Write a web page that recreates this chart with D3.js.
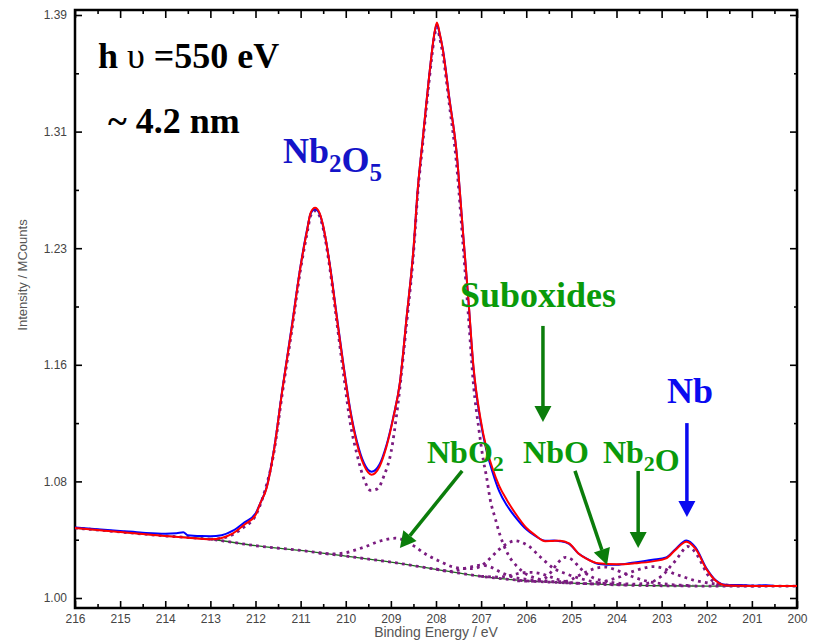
<!DOCTYPE html>
<html>
<head>
<meta charset="utf-8">
<script src="https://cdn.jsdelivr.net/npm/d3@7"></script>
<style>
body { margin: 0; background: #fff; }
svg { display: block; }
</style>
</head>
<body>
<svg id="chart" width="816" height="642"></svg>
<script>
// Nb 3d spectrum as [binding energy (eV), intensity (MCounts)]
const fitCurve = [
	[216.0,1.0468],[215.5,1.0455],[215.0,1.0442],[214.5,1.0428],[214.0,1.0415],[213.5,1.0403],[213.0,1.0393],
	[212.75,1.0402],[212.5,1.0432],[212.25,1.0490],[212.0,1.0555],[211.9,1.0630],[211.75,1.0740],[211.6,1.0970],
	[211.4,1.1400],[211.2,1.1800],[211.0,1.2220],[210.85,1.2470],[210.78,1.2575],[210.68,1.2610],[210.58,1.2575],
	[210.5,1.2490],[210.35,1.2220],
	[210.2,1.1880],[210.05,1.1550],[209.9,1.1250],[209.75,1.1030],[209.6,1.0890],[209.43,1.0825],[209.25,1.0880],
	[209.1,1.1010],[208.95,1.1200],[208.8,1.1440],[208.65,1.1880],[208.5,1.2330],[208.4,1.2750],[208.3,1.3050],
	[208.2,1.3350],[208.1,1.3630],[208.04,1.3770],[207.98,1.3850],[207.92,1.3780],[207.85,1.3670],[207.7,1.3330],
	[207.55,1.3000],[207.4,1.2440],
	[207.28,1.1990],[207.17,1.1550],[207.02,1.1210],[206.88,1.1000],[206.75,1.0870],[206.6,1.0750],[206.43,1.0656],
	[206.25,1.0570],[206.0,1.0470],[205.8,1.0420],[205.58,1.0380],[205.4,1.0382],[205.25,1.0383],[205.05,1.0365],
	[204.85,1.0300],[204.65,1.0260],[204.4,1.0232],[204.0,1.0225],[203.6,1.0232],[203.2,1.0245],[202.9,1.0265],
	[202.7,1.0320],[202.45,1.0377],[202.25,1.0330],[202.0,1.0190],[201.8,1.0115],[201.55,1.0083],[201.0,1.0080],
	[200.5,1.0080],[200.0,1.0080]
];

const rawCurve = [
	[216.0,1.0472],[215.5,1.0460],[215.0,1.0449],[214.5,1.0437],[214.0,1.0430],[213.75,1.0433],[213.6,1.0440],
	[213.5,1.0420],[213.2,1.0414],[213.0,1.0413],[212.75,1.0420],[212.5,1.0450],[212.25,1.0505],[212.0,1.0565],
	[211.9,1.0630],[211.75,1.0745],[211.6,1.0975],[211.4,1.1405],[211.2,1.1810],[211.0,1.2225],[210.85,1.2475],
	[210.78,1.2570],[210.68,1.2600],[210.58,1.2570],[210.5,1.2485],[210.35,1.2225],[210.2,1.1890],[210.05,1.1560],
	[209.9,1.1260],[209.75,1.1045],
	[209.6,1.0905],[209.43,1.0845],[209.25,1.0895],[209.1,1.1020],[208.95,1.1205],[208.8,1.1440],[208.65,1.1880],
	[208.5,1.2330],[208.4,1.2750],[208.3,1.3050],[208.2,1.3350],[208.1,1.3630],[208.04,1.3765],[207.98,1.3840],
	[207.92,1.3775],[207.85,1.3675],
	[207.7,1.3335],[207.55,1.3000],[207.4,1.2440],[207.28,1.1985],[207.17,1.1540],[207.02,1.1195],[206.88,1.0985],
	[206.75,1.0845],[206.6,1.0715],[206.43,1.0620],[206.25,1.0545],[206.0,1.0460],[205.8,1.0415],[205.58,1.0383],
	[205.4,1.0384],[205.25,1.0380],[205.05,1.0362],[204.85,1.0300],[204.65,1.0262],[204.4,1.0228],[204.0,1.0222],
	[203.6,1.0238],[203.2,1.0256],[202.9,1.0272],[202.7,1.0325],[202.45,1.0385],[202.25,1.0338],[202.0,1.0195],
	[201.8,1.0118],[201.55,1.0086],[201.3,1.0087],[201.0,1.0082],[200.7,1.0085],[200.5,1.0081],[200.0,1.0080]
];

const bgCurve = [
	[216,1.0468],[215,1.0442],[214,1.0415],[213,1.0393],[212,1.0350],[211,1.0318],[210,1.0280],[209,1.0240],
	[208,1.0192],[207,1.0145],[206,1.0115],[205,1.0100],[204,1.0088],[203,1.0082],[202,1.0080],[201,1.0080],[200,1.0080]
];

// fitted components (each sits on the background)
const compNb2O5 = [
	[213.0,1.0393],[212.75,1.0400],[212.5,1.0425],[212.25,1.0475],[212.0,1.0550],[211.8,1.0710],[211.6,1.0960],
	[211.4,1.1380],[211.2,1.1780],[211.0,1.2200],[210.85,1.2450],[210.78,1.2555],[210.68,1.2590],[210.58,1.2555],
	[210.5,1.2470],[210.35,1.2200],
	[210.2,1.1850],[210.05,1.1500],[209.9,1.1170],[209.75,1.0960],[209.6,1.0800],[209.45,1.0720],[209.3,1.0730],
	[209.15,1.0820],[209.0,1.0970],[208.85,1.1280],[208.65,1.1840],[208.5,1.2300],[208.4,1.2720],[208.3,1.3020],
	[208.2,1.3320],[208.1,1.3600],[208.04,1.3745],[207.98,1.3820],[207.92,1.3750],[207.85,1.3640],[207.7,1.3290],
	[207.55,1.2920],[207.4,1.2360],
	[207.28,1.1880],[207.17,1.1430],[207.05,1.1130],[206.95,1.0920],[206.88,1.0810],[206.8,1.0660],[206.69,1.0535],
	[206.58,1.0420],[206.4,1.0290],[206.2,1.0210],[206.0,1.0160],[205.7,1.0125],[205.3,1.0105],[205.0,1.0100]
];

const compNbO2 = [
	[210.6,1.0300],[210.3,1.0295],[210.0,1.0303],[209.8,1.0320],[209.55,1.0345],[209.3,1.0375],[209.1,1.0392],
	[208.9,1.0400],[208.7,1.0385],[208.5,1.0350],[208.2,1.0288],[207.9,1.0243],[207.65,1.0210],[207.45,1.0198],
	[207.2,1.0196],[207.0,1.0215],[206.8,1.0266],[206.6,1.0325],[206.4,1.0368],[206.25,1.0383],[206.1,1.0372],
	[205.95,1.0348],[205.7,1.0278],[205.4,1.0200],[205.1,1.0160],[204.8,1.0130],[204.5,1.0108],[204.2,1.0095],
	[203.8,1.0088]
];

const compNbO = [
	[208.0,1.0195],[207.7,1.0178],[207.45,1.0192],[207.2,1.0210],[207.0,1.0220],[206.8,1.0208],[206.55,1.0170],
	[206.3,1.0140],[206.0,1.0125],[205.7,1.0113],[205.4,1.0108],[205.1,1.0112],[204.89,1.0142],[204.66,1.0176],
	[204.45,1.0200],[204.25,1.0207],[204.05,1.0192],[203.85,1.0168],[203.62,1.0140],[203.4,1.0118],[203.1,1.0100],
	[202.7,1.0088],[202.3,1.0083]
];

const compNb2O = [
	[207.0,1.0145],[206.6,1.0140],[206.3,1.0155],[206.1,1.0168],[205.9,1.0172],[205.7,1.0165],[205.45,1.0140],
	[205.2,1.0115],[204.9,1.0100],[204.5,1.0095],[204.22,1.0115],[203.92,1.0142],[203.65,1.0176],[203.41,1.0199],
	[203.19,1.0210],[202.97,1.0199],[202.74,1.0165],[202.52,1.0142],[202.3,1.0120],[202.0,1.0102],[201.6,1.0088],
	[201.2,1.0082]
];

const compNb = [
	[206.2,1.0115],[205.9,1.0112],[205.7,1.0118],[205.55,1.0140],[205.42,1.0185],[205.3,1.0235],[205.13,1.0272],
	[204.98,1.0255],[204.85,1.0215],[204.72,1.0175],[204.55,1.0140],[204.3,1.0115],[204.0,1.0100],[203.6,1.0093],
	[203.3,1.0100],[203.07,1.0132],[202.93,1.0165],[202.81,1.0210],[202.67,1.0258],[202.55,1.0310],[202.43,1.0345],
	[202.3,1.0322],[202.19,1.0276],[202.1,1.0225],[202.0,1.0165],[201.89,1.0120],[201.78,1.0098],[201.6,1.0086],
	[201.2,1.0081],[200.8,1.0080]
];

const xMajor = d3.range(216, 199, -1);
const xMinor = d3.range(215.5, 200, -1);
const yMajor = [1.00, 1.078, 1.156, 1.234, 1.312, 1.39];
const yLabels = ['1.00', '1.08', '1.16', '1.23', '1.31', '1.39'];
const yMinor = [1.039, 1.117, 1.195, 1.273, 1.351];

const svg = d3.select('#chart');
const frameL = 75, frameR = 797, frameT = 10, frameB = 608;

let x = d3.scaleLinear().domain([216, 200]).range([frameL, frameR]);
let y = d3.scaleLinear().domain([1.00, 1.39]).range([598, 15]);

svg.append('rect').attr('width', 816).attr('height', 642).attr('fill', '#fff');

let line = d3.line()
	.x((d) => x(d[0]))
	.y((d) => y(d[1]))
	.curve(d3.curveMonotoneX);

// axes: ticks all point into the frame
function styleAxis(g) {
	g.select('.domain').remove();
	g.selectAll('.tick line').attr('stroke', '#000').attr('stroke-width', 1.6);
	g.selectAll('.tick text').attr('fill', '#444').style('font-family', 'Liberation Sans, Arial, sans-serif').style('font-size', '12px');
}

svg.append('g').attr('transform', `translate(0,${frameB})`)
	.call(d3.axisBottom(x).tickValues(xMajor).tickSize(-7).tickPadding(6).tickFormat(d3.format('d')))
	.call(styleAxis);
svg.append('g').attr('transform', `translate(0,${frameB})`)
	.call(d3.axisBottom(x).tickValues(xMinor).tickSize(-4).tickFormat(''))
	.call(styleAxis);
svg.append('g').attr('transform', `translate(0,${frameT})`)
	.call(d3.axisTop(x).tickValues(xMajor).tickSize(-8).tickFormat(''))
	.call(styleAxis);
svg.append('g').attr('transform', `translate(0,${frameT})`)
	.call(d3.axisTop(x).tickValues(xMinor).tickSize(-4).tickFormat(''))
	.call(styleAxis);
svg.append('g').attr('transform', `translate(${frameL},0)`)
	.call(d3.axisLeft(y).tickValues(yMajor).tickSize(-7).tickPadding(8).tickFormat((d, i) => yLabels[i]))
	.call(styleAxis);
svg.append('g').attr('transform', `translate(${frameL},0)`)
	.call(d3.axisLeft(y).tickValues(yMinor).tickSize(-4).tickFormat(''))
	.call(styleAxis);
svg.append('g').attr('transform', `translate(${frameR},0)`)
	.call(d3.axisRight(y).tickValues(yMajor).tickSize(-7).tickFormat(''))
	.call(styleAxis);
svg.append('g').attr('transform', `translate(${frameR},0)`)
	.call(d3.axisRight(y).tickValues(yMinor).tickSize(-3).tickFormat(''))
	.call(styleAxis);

svg.append('rect')
	.attr('x', frameL).attr('y', frameT)
	.attr('width', frameR - frameL).attr('height', frameB - frameT)
	.attr('fill', 'none').attr('stroke', '#000').attr('stroke-width', 2.5);

svg.append('text')
	.attr('x', (frameL + frameR) / 2).attr('y', 637)
	.attr('text-anchor', 'middle')
	.attr('fill', '#555')
	.style('font-family', 'Liberation Sans, Arial, sans-serif').style('font-size', '14px')
	.text('Binding Energy / eV');

svg.append('text')
	.attr('transform', 'translate(27,275) rotate(-90)')
	.attr('text-anchor', 'middle')
	.attr('fill', '#555')
	.style('font-family', 'Liberation Sans, Arial, sans-serif').style('font-size', '13px')
	.text('Intensity / MCounts');

// curves
svg.append('path').datum(bgCurve).attr('d', line)
	.attr('fill', 'none').attr('stroke', '#1f6b1f').attr('stroke-width', 1.3);

const purple = '#7b1c80';
[bgCurve, compNb2O5, compNbO2, compNbO, compNb2O, compNb].forEach((c) => {
	svg.append('path').datum(c).attr('d', line)
		.attr('fill', 'none').attr('stroke', purple)
		.attr('stroke-width', 2.8).attr('stroke-dasharray', '2.8,4.2');
});

svg.append('path').datum(rawCurve).attr('d', line)
	.attr('fill', 'none').attr('stroke', '#0000ff').attr('stroke-width', 2);
svg.append('path').datum(fitCurve).attr('d', line)
	.attr('fill', 'none').attr('stroke', '#ff0000').attr('stroke-width', 2);

// annotations
const serif = 'Liberation Serif, Times New Roman, serif';

function label(E, v, size, color, parts) {
	let t = svg.append('text')
		.attr('x', x(E)).attr('y', y(v))
		.attr('fill', color)
		.style('font-family', serif).style('font-weight', 'bold').style('font-size', size + 'px');
	parts.forEach((p) => {
		if (typeof p === 'string') {
			t.append('tspan').text(p);
		} else {
			t.append('tspan').attr('dy', p.sub).style('font-size', p.size + 'px').text(p.t);
			t.append('tspan').attr('dy', -p.sub).text('');
		}
	});
	return t;
}

let hv = svg.append('text')
	.attr('x', x(215.49)).attr('y', y(1.3545))
	.attr('fill', '#000')
	.style('font-family', serif).style('font-weight', 'bold').style('font-size', '36px');
hv.append('tspan').text('h ');
hv.append('tspan').style('font-weight', 'normal').text('υ');
hv.append('tspan').text(' =550 eV');

label(215.27, 1.3111, 36, '#000', ['~ 4.2 nm']);
label(211.39, 1.2910, 36, '#1414c8', ['Nb', { t: '2', sub: 9, size: 25 }, 'O', { t: '5', sub: 9, size: 25 }]);
label(207.47, 1.1947, 36, '#0a9a0a', ['Suboxides']);
label(208.20, 1.0903, 32, '#0a9a0a', ['NbO', { t: '2', sub: 8, size: 22 }]);
label(206.07, 1.0903, 32, '#0a9a0a', ['NbO']);
label(204.30, 1.0903, 32, '#0a9a0a', ['Nb', { t: '2', sub: 8, size: 22 }, 'O']);
label(202.88, 1.1304, 36, '#0a0af0', ['Nb']);

// arrows: [from E, from v, tip E, tip v, colour]
const arrows = [
	[205.63, 1.182, 205.63, 1.1177, '#0b7d0b'],
	[207.42, 1.085, 208.80, 1.0334, '#0b7d0b'],
	[204.92, 1.085, 204.21, 1.0221, '#0b7d0b'],
	[203.52, 1.085, 203.52, 1.0334, '#0b7d0b'],
	[202.44, 1.117, 202.44, 1.0542, '#0a0af0']
];

arrows.forEach((a) => {
	let x1 = x(a[0]), y1 = y(a[1]), x2 = x(a[2]), y2 = y(a[3]);
	let ang = Math.atan2(y2 - y1, x2 - x1);
	let len = 16, half = 8.5;
	let bx = x2 - len * Math.cos(ang), by = y2 - len * Math.sin(ang);
	svg.append('line')
		.attr('x1', x1).attr('y1', y1).attr('x2', bx).attr('y2', by)
		.attr('stroke', a[4]).attr('stroke-width', 3.5);
	svg.append('polygon')
		.attr('points', [
			[x2, y2],
			[bx + half * Math.sin(ang), by - half * Math.cos(ang)],
			[bx - half * Math.sin(ang), by + half * Math.cos(ang)]
		].map((p) => p.join(',')).join(' '))
		.attr('fill', a[4]);
});
</script>
</body>
</html>
